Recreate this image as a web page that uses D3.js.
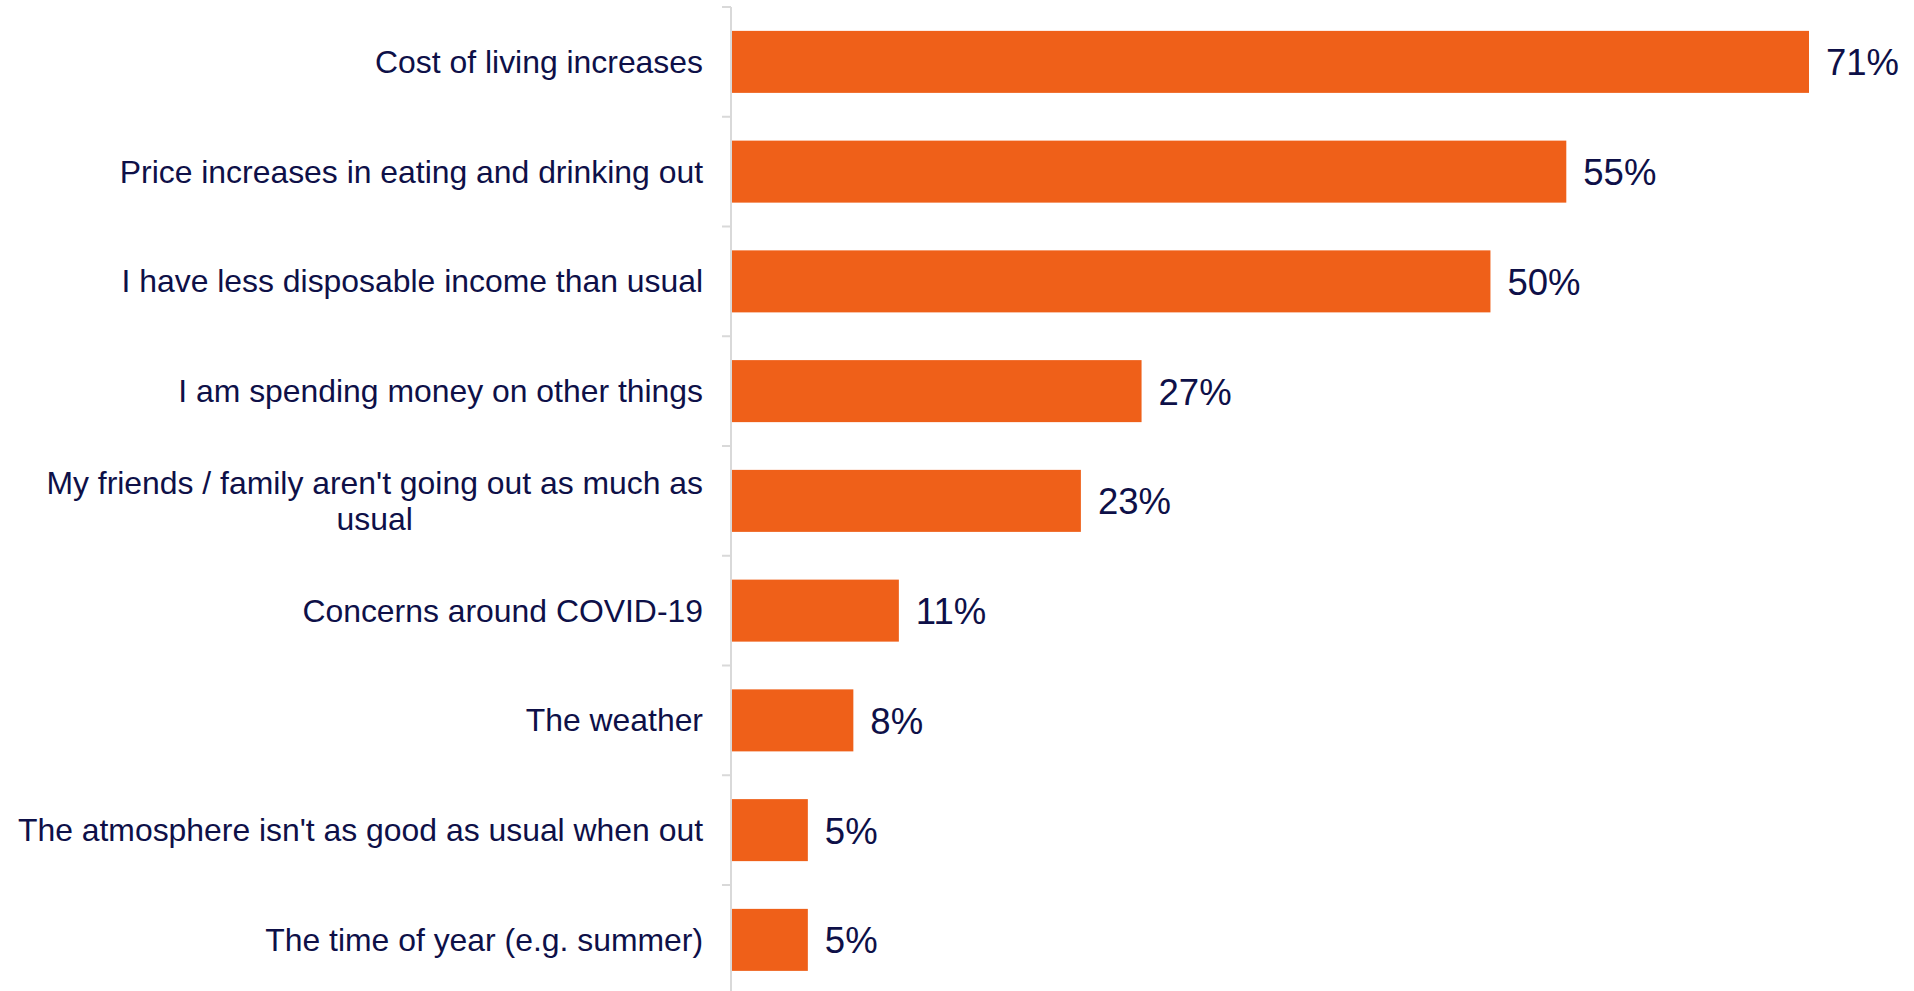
<!DOCTYPE html>
<html>
<head>
<meta charset="utf-8">
<script src="https://cdn.jsdelivr.net/npm/d3@7/dist/d3.min.js"></script>
<style>
  html, body { margin: 0; padding: 0; background: #ffffff; }
  svg { display: block; }
</style>
</head>
<body>
<svg id="chart" width="1914" height="991"></svg>
<script>
// Reasons for going out less often (% of respondents)
const categories = [
  "Cost of living increases",
  "Price increases in eating and drinking out",
  "I have less disposable income than usual",
  "I am spending money on other things",
  "My friends / family aren't going out as much as usual",
  "Concerns around COVID-19",
  "The weather",
  "The atmosphere isn't as good as usual when out",
  "The time of year (e.g. summer)"
];
const values = [71, 55, 50, 27, 23, 11, 8, 5, 5];
const valueLabels = values.map(v => v + "%");

const W = 1914, H = 991;
const axisX = 731;
const barColor = "#EF6019";
const textColor = "#0E1048";
const axisColor = "#D9D9D9";

const svg = d3.select("#chart");

const y = d3.scaleBand()
  .domain(categories)
  .range([7, 994.75])
  .paddingInner(0.435)
  .paddingOuter(0.2175);

const x = d3.scaleLinear()
  .domain([0, d3.max(values)])
  .range([axisX + 1, 1809]);

const data = categories.map((c, i) => ({ cat: c, value: values[i], label: valueLabels[i] }));

// Bars
svg.append("g").selectAll("rect")
  .data(data)
  .join("rect")
  .attr("x", x(0))
  .attr("y", d => y(d.cat))
  .attr("width", d => x(d.value) - x(0))
  .attr("height", y.bandwidth())
  .attr("fill", barColor);

// Category axis: vertical line plus ticks at band boundaries
const step = y.step();
const pad = step * y.paddingInner() / 2;
const axisG = svg.append("g");
axisG.append("line")
  .attr("x1", axisX).attr("x2", axisX)
  .attr("y1", y(categories[0]) - pad)
  .attr("y2", H)
  .attr("stroke", axisColor)
  .attr("stroke-width", 2);
axisG.selectAll("line.tick")
  .data(categories)
  .join("line")
  .attr("class", "tick")
  .attr("x1", axisX - 9).attr("x2", axisX)
  .attr("y1", d => y(d) - pad)
  .attr("y2", d => y(d) - pad)
  .attr("stroke", axisColor)
  .attr("stroke-width", 2);

// Category labels, wrapped and right-aligned
const labelFont = "Liberation Sans, Arial, sans-serif";
const labelSize = 31.9;
const maxLabelWidth = 705;
const labelRight = 703;
const lineHeight = 36;

const labelG = svg.append("g")
  .attr("font-family", labelFont)
  .attr("font-size", labelSize)
  .attr("fill", textColor);

data.forEach(d => {
  const cy = y(d.cat) + y.bandwidth() / 2;
  const probe = labelG.append("text").attr("x", -9999).attr("y", -9999);
  const words = d.cat.split(" ");
  const lines = [];
  let line = [];
  words.forEach(w => {
    const trial = line.concat(w).join(" ");
    probe.text(trial);
    if (probe.node().getComputedTextLength() > maxLabelWidth && line.length) {
      lines.push(line.join(" "));
      line = [w];
    } else {
      line.push(w);
    }
  });
  lines.push(line.join(" "));
  // width of widest line, so shorter lines are centred beneath it
  const widths = lines.map(l => { probe.text(l); return probe.node().getComputedTextLength(); });
  probe.remove();
  const maxW = d3.max(widths);
  const t = labelG.append("text")
    .attr("dominant-baseline", "central");
  lines.forEach((l, i) => {
    const multi = lines.length > 1;
    t.append("tspan")
      .attr("x", multi ? labelRight - maxW / 2 : labelRight)
      .attr("text-anchor", multi ? "middle" : "end")
      .attr("y", cy + (i - (lines.length - 1) / 2) * lineHeight)
      .text(l);
  });
});

// Value labels
svg.append("g")
  .attr("font-family", labelFont)
  .attr("font-size", 36.5)
  .attr("fill", textColor)
  .selectAll("text")
  .data(data)
  .join("text")
  .attr("x", d => x(d.value) + 17)
  .attr("y", d => y(d.cat) + y.bandwidth() / 2 + 1)
  .attr("dominant-baseline", "central")
  .text(d => d.label);
</script>
</body>
</html>
